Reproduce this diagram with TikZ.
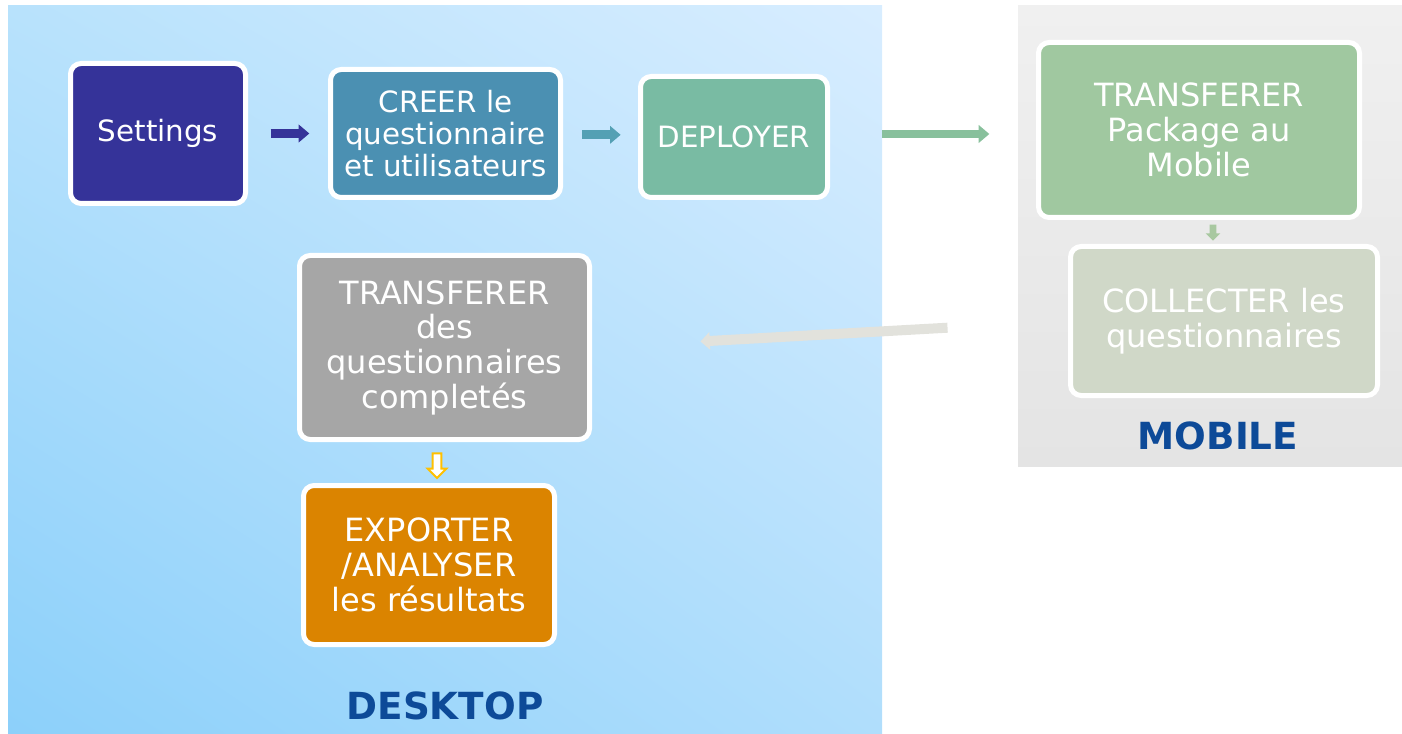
\documentclass[tikz,border=0pt]{standalone}
\usepackage{xcolor}
\usepackage{fontspec}
\setmainfont{DejaVu Sans}
\usepackage{tikz}
\usetikzlibrary{positioning, shapes.arrows, arrows.meta, shadings}
\definecolor{setcol}{HTML}{353399}
\definecolor{creercol}{HTML}{4B90B2}
\definecolor{depcol}{HTML}{79BBA3}
\definecolor{pkgcol}{HTML}{A0C8A0}
\definecolor{collcol}{HTML}{D0D8C8}
\definecolor{trcol}{HTML}{A6A6A6}
\definecolor{expcol}{HTML}{DB8400}
\definecolor{titlecol}{HTML}{0D4A98}
\definecolor{arrow1}{HTML}{54A0B4}
\definecolor{arrow2}{HTML}{88C09C}
\definecolor{arrow3}{HTML}{E2E2DC}
\definecolor{arrow4}{HTML}{A8C8A0}
\definecolor{yellowcol}{HTML}{FFC000}
\definecolor{deskUL}{HTML}{B8E2FC}
\definecolor{deskUR}{HTML}{D8EDFF}
\definecolor{deskLL}{HTML}{8CD0FA}
\definecolor{deskLR}{HTML}{B0DEFC}
\definecolor{mobTop}{HTML}{F0F0F0}
\definecolor{mobBot}{HTML}{E4E4E4}
\tikzset{
    block/.style={
        draw = white, line width = 3.75pt,
        rounded corners = 8pt,
        text = white,
        align = center,
        inner sep = 0pt,
        font = \fontsize{24pt}{26pt}\selectfont
    },
    small/.style = {font = \fontsize{22pt}{24pt}\selectfont},
    title/.style = {text = titlecol, font = \fontsize{28pt}{30pt}\selectfont\bfseries},
    line/.style = {line width = 6.5pt, -{Triangle[length=8pt, width=13pt]}}
}

\begin{document}
\begin{tikzpicture}[x=0.75pt, y=-0.75pt]
    \useasboundingbox (0,0) rectangle (1402,734);

    % Panels
    \shade[upper left=deskUL, upper right=deskUR, lower left=deskLL, lower right=deskLR]
        (8,6) rectangle (882,734);
    \shade[top color=mobTop, bottom color=mobBot]
        (1018,6) rectangle (1402,466);

    % Desktop blocks
    \node[block, small, fill=setcol, minimum width=131.25pt, minimum height=105pt] (settings) at (158,133.5) {Settings};
    \node[block, small, fill=creercol, minimum width=172.5pt, minimum height=96pt] (creer) at (445.5,133.5)
        {CREER le\\questionnaire\\et utilisateurs};
    \node[block, small, fill=depcol, minimum width=140.25pt, minimum height=90.75pt] (deployer) at (734,137) {DEPLOYER};
    \node[block, fill=trcol, minimum width=217.5pt, minimum height=138pt] (trdes) at (444.5,347.5)
        {TRANSFERER\\des\\questionnaires\\completés};
    \node[block, fill=expcol, minimum width=188.25pt, minimum height=119.25pt] (export) at (429,565)
        {EXPORTER\\/ANALYSER\\les résultats};

    % Mobile blocks
    \node[block, fill=pkgcol, minimum width=240.75pt, minimum height=131.25pt] (package) at (1199,130)
        {TRANSFERER\\Package au\\Mobile};
    \node[block, fill=collcol, minimum width=230.25pt, minimum height=111.75pt] (collect) at (1224,321)
        {COLLECTER les\\questionnaires};

    % Titles
    \node[title] (desktop) at (445,706) {DESKTOP};
    \node[title] (mobile) at (1218,436) {MOBILE};

    % Lines
    \draw[line, setcol, shorten <=17pt, shorten >=14pt] (settings.east) -- (creer.west);
    \draw[line, arrow1, shorten <=14.5pt, shorten >=13pt]
        ([yshift=-1pt]creer.east) -- ([yshift=-1pt]creer.east -| deployer.west);
    \draw[line, arrow2, shorten <=39pt, shorten >=35pt]
        ([yshift=2.25pt]deployer.east) -- ([yshift=2.25pt]deployer.east -| package.west);
    \draw[line, arrow3, line width=7.5pt,
        -{Triangle[length=7pt, width=13pt]}, shorten <=90.5pt, shorten >=81.5pt]
        (collect.west) -- (trdes.east);

    % Small arrows
    \node[single arrow, fill=arrow4, shape border rotate=270,
        minimum height=12pt, minimum width=11pt, single arrow head extend=2pt, inner sep=1.5pt]
        (down1) at (1213,231) {};
    \node[single arrow, draw=yellowcol, fill=white, line width=1.5pt,
        shape border rotate=270, minimum height=18.5pt, minimum width=14pt,
        single arrow head extend=3.25pt, inner sep=2pt]
        (down2) at (437,463.5) {};

\end{tikzpicture}
\end{document}
